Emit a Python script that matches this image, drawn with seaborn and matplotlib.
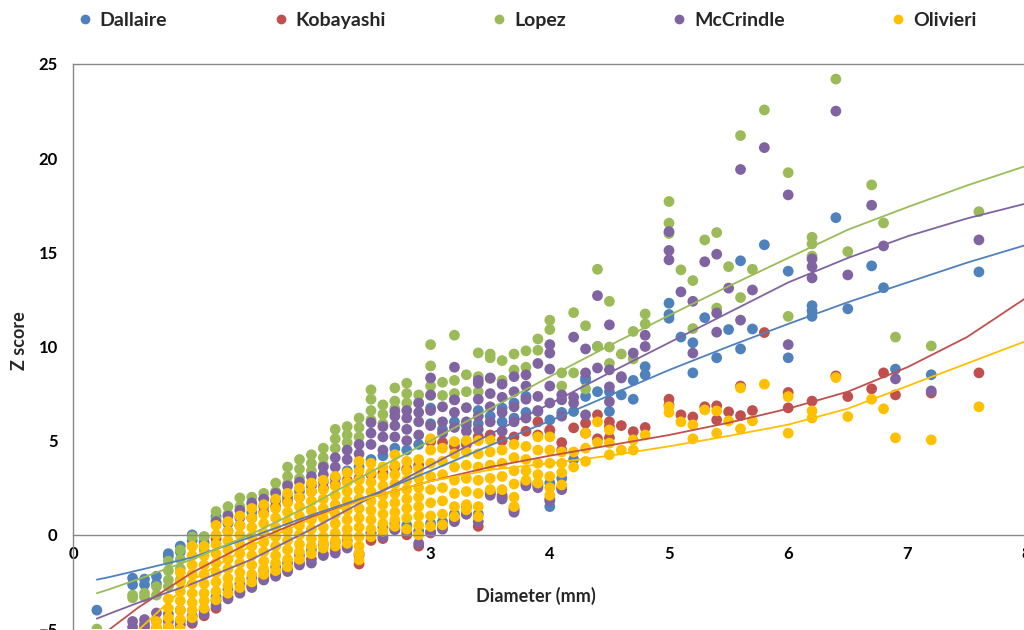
import numpy as np
import pandas as pd
import seaborn as sns
import matplotlib.pyplot as plt
from matplotlib.lines import Line2D

sns.set_theme(style='white')
plt.rcParams['font.family'] = ['Lato', 'DejaVu Sans']

# Studies and their colours
series = ['Dallaire', 'Kobayashi', 'Lopez', 'McCrindle', 'Olivieri']
colors = ['#4F81BD', '#C0504D', '#9BBB59', '#8064A2', '#FFC000']

# Diameters (mm) of the measured columns
diam = [0.2, 0.5, 0.6, 0.7, 0.8, 0.9, 1.0, 1.1, 1.2, 1.3, 1.4, 1.5, 1.6, 1.7, 1.8, 1.9,
        2.0, 2.1, 2.2, 2.3, 2.4, 2.5, 2.6, 2.7, 2.8, 2.9, 3.0, 3.1, 3.2, 3.3, 3.4, 3.5,
        3.6, 3.7, 3.8, 3.9, 4.0, 4.1, 4.2, 4.3, 4.4, 4.5, 4.6, 4.7, 4.8, 5.0, 5.1, 5.2,
        5.3, 5.4, 5.5, 5.6, 5.7, 5.8, 6.0, 6.2, 6.4, 6.5, 6.7, 6.8, 6.9, 7.2, 7.6]

# Z scores per diameter, one list per column
dallaire = [[-4.0], [-2.3, -2.65], [-2.35, -2.65], [-2.2, -2.6], [-1.0, -1.15], [-0.6, -0.9],
            [0.0, -0.3], [-0.1, -0.4], [0.97, -3.3], [0.6, -2.9], [0.9, -2.6], [1.2, -2.3],
            [1.5, -1.9], [1.8, -1.7], [2.0, -1.5], [2.3, -1.1], [2.6, -0.8], [2.8, -0.5],
            [3.0, -0.4], [3.4, -0.3], [3.6, -1.1], [4.0, 0.1], [4.2, 0.4], [4.6, 0.6],
            [4.5, 0.5], [4.8, 0.2], [6.73, 5.9, 0.6], [5.6, 0.7], [7.17, 6.0, 1.1], [5.8, 1.5],
            [6.6, 5.9, 1.1], [6.3, 2.3], [6.73, 6.0, 2.1], [7.0, 6.2, 1.4], [7.35, 6.5, 2.8],
            [6.55, 2.7], [6.1, 5.5, 2.75, 1.5], [6.5, 3.0], [6.55, 4.0], [8.2, 7.35, 8.33],
            [10.0, 7.6], [7.6, 6.55], [7.43], [8.2, 7.2], [8.93, 8.5], [12.3, 11.7, 11.5],
            [10.5], [10.2, 8.6], [11.53], [9.4], [10.9], [14.55, 9.87], [10.93], [15.4],
            [14.0, 9.4], [12.17, 11.9, 11.6], [16.84], [12.0], [14.28], [13.12], [8.8],
            [8.5], [13.96]]

kobayashi = [[], [], [-4.9], [-4.95], [-4.9], [-4.8], [-4.7], [-4.3], [-3.9, -0.2],
             [-3.3, 0.2], [-3.0, 0.5], [-2.7, 0.9], [-2.3, 1.2], [-2.1, 1.5], [-1.8, 1.8],
             [-1.5, 2.0], [-1.3, 2.3], [-1.0, 2.5], [-0.8, 2.7], [-0.6, 2.9], [-1.55, 3.0],
             [-0.3, 3.2], [-0.2, 3.3], [0.3, 3.6], [0.0, 3.5], [-0.6, 3.7], [0.1, 4.95],
             [0.4, 4.9], [0.8, 4.7], [1.1, 4.8], [0.45, 5.2], [2.2, 5.3], [2.0, 5.0],
             [1.3, 5.2], [2.7, 5.5], [2.6, 6.0, 5.3], [1.9, 5.57], [2.5, 4.9, 4.5], [5.68],
             [5.4, 5.93], [6.37, 5.1], [6.0, 5.75, 5.15], [5.8], [5.48], [5.7], [7.2, 6.9],
             [6.37], [6.26], [6.8], [6.85, 6.1], [6.53], [7.9, 6.33], [6.6], [10.74],
             [7.56, 6.74], [7.1], [8.44], [7.34], [7.75], [8.6], [7.43], [7.53], [8.6]]

lopez = [[-5.0], [-3.2, -3.35], [-3.1, -3.3], [-2.75, -3.2], [-1.4, -1.9, -2.4, -2.75],
         [-0.8, -1.3, -1.8, -2.4], [-0.1, -0.6], [-0.1, -0.8], [1.24, 0.8], [1.5, 1.1],
         [1.96, 1.5], [2.0, 1.6], [2.2, 1.9], [2.75, 2.3], [3.6, 3.1, 2.7], [4.0, 3.5, 3.0],
         [4.25, 3.8, 3.4], [4.6, 4.1, 3.7], [5.6, 5.1, 4.6], [5.75, 5.3, 4.9],
         [6.2, 5.7, 5.2], [7.7, 7.2, 6.6, 6.1], [6.9, 6.4, 5.9], [7.8, 7.1, 6.7],
         [8.05, 7.5, 7.0], [7.43, 7.0], [10.1, 8.97, 7.9, 7.4], [8.1, 7.4], [10.6, 8.2, 7.5],
         [8.5, 7.6], [9.66, 8.4, 7.6], [9.6, 9.4, 8.3], [9.25, 8.2], [9.6, 8.75],
         [9.77, 8.9], [10.4, 9.8], [11.4, 10.9], [8.6, 7.9], [11.8, 8.6], [11.1, 7.75],
         [14.1, 10.0], [12.4, 9.97, 9.1], [9.6], [10.8, 9.34], [11.73, 11.2],
         [17.7, 16.55, 16.0], [14.07], [13.5, 10.95], [15.66], [16.05, 12.04], [14.24],
         [21.2, 12.6], [14.1], [22.56], [19.23, 11.6], [15.8, 15.45, 14.8], [24.2],
         [15.04], [18.58], [16.56], [10.5], [10.03], [17.16]]

mccrindle = [[], [-4.6, -4.9], [-4.5, -4.75], [-4.15, -4.6], [-4.2, -4.6], [-4.0, -4.6],
             [-4.3, -4.6], [-4.0, -4.2], [0.7, -3.5, -3.75], [1.0, -3.4], [1.3, -3.1],
             [1.7, -2.8], [1.9, -2.4], [2.2, -2.2], [2.6, -1.95], [2.8, -1.6], [3.1, -1.5],
             [3.6, 3.2, -1.1], [4.1, 3.6, -0.97], [4.5, 4.0, -0.7], [4.8, 4.3, -1.0],
             [5.96, 5.4, 4.8, 0.1], [5.75, 5.2, 4.5, -0.1], [6.55, 6.3, 5.8, 5.2, 0.27],
             [6.6, 6.2, 5.6, 5.0, 0.17], [7.0, 6.5, 6.0, 5.3, -0.45],
             [8.33, 7.43, 6.6, 5.8, 0.17], [6.8, 6.0, 5.4, 0.3], [8.9, 7.17, 6.5, 5.7, 0.7],
             [6.75, 6.0, 5.5, 1.1], [8.2, 8.05, 7.2, 6.3, 5.6, 0.7], [8.33, 7.5, 6.8, 6.0, 2.1],
             [8.0, 7.3, 6.5, 5.5, 1.9], [8.4, 7.6, 6.8, 6.0, 1.2], [8.5, 7.9, 7.2, 6.2, 2.6],
             [9.1, 7.35, 6.6, 2.5], [10.1, 9.65, 8.8, 7.9, 7.0, 1.8], [7.43, 7.17, 6.3, 2.4],
             [10.5, 7.3, 7.0], [9.87, 8.6, 6.37], [12.7, 8.86], [11.15, 8.76, 7.86, 7.07],
             [8.4, 8.33], [9.65], [10.6, 10.0], [16.1, 15.1, 14.6], [12.9], [12.4, 9.65],
             [14.5], [14.9, 11.78, 10.76], [13.1], [19.4, 11.4], [13.0], [20.56],
             [18.05, 10.1], [14.65, 14.24, 13.64], [22.5], [13.8], [17.5], [15.34], [8.28],
             [7.64], [15.66]]

olivieri = [[], [], [], [-4.6, -4.9], [-3.4, -3.9, -4.4, -4.9],
            [-2.0, -2.5, -3.0, -3.5, -4.0, -4.5, -5.0],
            [-0.6, -1.1, -1.6, -2.1, -2.6, -3.1, -3.6, -4.0, -4.4],
            [-0.6, -1.1, -1.6, -2.1, -2.6, -3.1, -3.5, -3.9],
            [0.5, 0.0, -0.5, -1.0, -1.5, -2.0, -2.5, -3.0, -3.45],
            [0.7, 0.2, -0.3, -0.8, -1.3, -1.8, -2.3, -2.7, -3.1],
            [1.0, 0.5, 0.0, -0.5, -1.0, -1.5, -2.0, -2.4, -2.8],
            [1.4, 0.9, 0.4, -0.1, -0.6, -1.1, -1.6, -2.1, -2.5],
            [1.6, 1.1, 0.6, 0.1, -0.4, -0.9, -1.4, -1.8, -2.1],
            [1.9, 1.4, 0.9, 0.4, -0.1, -0.6, -1.1, -1.5, -1.9],
            [2.2, 1.7, 1.2, 0.7, 0.2, -0.3, -0.8, -1.3, -1.7],
            [2.5, 2.0, 1.5, 1.0, 0.5, 0.0, -0.5, -0.9, -1.3],
            [2.75, 2.3, 1.8, 1.3, 0.8, 0.3, -0.2, -0.6, -1.0],
            [2.9, 2.4, 1.9, 1.4, 0.9, 0.4, -0.1, -0.4, -0.7],
            [3.1, 2.6, 2.1, 1.6, 1.1, 0.6, 0.1, -0.3, -0.6],
            [3.3, 2.8, 2.3, 1.8, 1.3, 0.8, 0.3, -0.1, -0.45],
            [3.9, 3.4, 2.9, 2.4, 1.9, 1.4, 0.9, 0.4, -0.1, -0.6, -1.0, -1.33],
            [3.8, 3.3, 2.8, 2.3, 1.8, 1.3, 0.8, 0.3, -0.1],
            [3.6, 3.1, 2.6, 2.1, 1.6, 1.1, 0.6, 0.2],
            [4.25, 3.7, 3.2, 2.7, 2.2, 1.7, 1.2, 0.8, 0.45],
            [3.9, 3.4, 2.9, 2.4, 1.9, 1.4, 0.9, 0.3],
            [4.0, 3.5, 3.0, 2.5, 2.0, 1.5, 1.0, 0.5, 0.0],
            [5.1, 4.5, 3.8, 3.1, 2.4, 1.7, 1.0, 0.45],
            [4.6, 3.9, 3.2, 2.5, 1.8, 1.1, 0.53],
            [4.95, 4.3, 3.6, 2.9, 2.2, 1.5, 0.97],
            [5.0, 4.4, 3.7, 3.0, 2.3, 1.6, 1.33],
            [5.0, 4.3, 3.6, 2.9, 2.2, 1.5, 0.97],
            [5.04, 4.4, 3.7, 3.0, 2.4], [4.5, 3.8, 3.1, 2.4],
            [4.8, 4.1, 3.4, 2.7, 2.0, 1.5], [4.7, 4.0, 3.4, 2.9],
            [5.2, 4.5, 3.8, 3.2, 2.75], [5.2, 4.5, 3.8, 3.1, 2.5, 2.1],
            [4.4, 3.8, 3.3, 2.65], [4.4, 3.6], [5.4, 4.6, 3.9], [6.0, 4.9],
            [5.57, 4.87, 4.25], [4.5], [5.04, 4.5], [5.3], [6.8, 6.5], [6.0], [5.84, 5.1],
            [6.63], [6.58, 5.4], [6.05], [7.8, 5.63], [6.05], [8.0], [7.34, 5.4], [6.58, 6.2],
            [8.35], [6.28], [7.2], [6.69], [5.15], [5.04], [6.8]]

# Polynomial trendlines
trend_x = [0.2, 0.3, 0.55, 1.0, 1.5, 2.0, 2.5, 3.0, 3.5, 4.0, 4.5, 5.0, 5.5, 6.0, 6.5, 7.0, 7.5, 8.0]
trend_dallaire = [-2.38, -2.25, -1.88, -1.2, -0.1, 1.05, 2.1, 3.4, 4.75, 6.05, 7.4, 8.75, 10.0, 11.2, 12.35, 13.4, 14.45, 15.4]
trend_kobayashi = [np.nan, -5.05, -3.85, -2.0, -0.35, 0.95, 2.0, 2.85, 3.6, 4.2, 4.75, 5.3, 5.95, 6.7, 7.6, 8.9, 10.5, 12.6]
trend_lopez = [-3.1, -2.9, -2.35, -1.3, 0.05, 1.6, 3.35, 5.0, 6.7, 8.4, 10.05, 11.65, 13.2, 14.7, 16.2, 17.4, 18.55, 19.6]
trend_mccrindle = [-4.45, -4.2, -3.6, -2.6, -1.3, 0.3, 2.0, 3.7, 5.35, 6.95, 8.6, 10.2, 11.8, 13.4, 14.7, 15.85, 16.8, 17.6]
trend_olivieri = [np.nan, np.nan, -5.05, -2.4, -0.55, 0.85, 2.0, 2.85, 3.45, 3.8, 4.2, 4.7, 5.25, 5.85, 6.7, 7.9, 9.1, 10.3]

rows = []
for name, cols in zip(series, [dallaire, kobayashi, lopez, mccrindle, olivieri]):
    for d, zs in zip(diam, cols):
        for z in zs:
            rows.append((name, d, z))
df = pd.DataFrame(rows, columns=['Study', 'Diameter', 'Z'])

trend = pd.DataFrame({'x': trend_x, 'Dallaire': trend_dallaire, 'Kobayashi': trend_kobayashi,
                      'Lopez': trend_lopez, 'McCrindle': trend_mccrindle, 'Olivieri': trend_olivieri})

fig = plt.figure(figsize=(10.24, 6.3), dpi=100)
ax = fig.add_axes([73 / 1024, 1 / 630, 953.6 / 1024, 565 / 630])

sns.scatterplot(data=df, x='Diameter', y='Z', hue='Study', hue_order=series, palette=colors,
                s=60, linewidth=0, legend=False, ax=ax)

for name, c in zip(series, colors):
    t = trend[['x', name]].dropna()
    sns.lineplot(data=t, x='x', y=name, color=c, lw=1.3, legend=False, ax=ax)

ax.set_xlim(0, 8)
ax.set_ylim(-5, 25)
ax.set_xticks(range(0, 9))
ax.set_yticks(range(-5, 26, 5))
ax.spines['bottom'].set_position(('data', 0))
ax.spines['right'].set_visible(False)
for sp in ['left', 'top', 'bottom']:
    ax.spines[sp].set_color('#888888')
    ax.spines[sp].set_linewidth(1)
ax.tick_params(axis='both', direction='out', length=5, width=1, color='#888888',
               labelsize=12, labelcolor='black')
ax.tick_params(axis='y', pad=6)
ax.tick_params(axis='x', pad=3)
for lbl in ax.get_xticklabels() + ax.get_yticklabels():
    lbl.set_fontweight('bold')

ax.set_xlabel('Diameter (mm)', fontsize=13, fontweight='bold')
ax.xaxis.label.set_va('center')
ax.xaxis.set_label_coords(0.485, 0.058)
ax.set_ylabel('Z score', fontsize=13, fontweight='bold')
ax.yaxis.label.set_va('center')
ax.yaxis.set_label_coords(-0.056, 0.511)

handles = [Line2D([], [], marker='o', ls='', color=c, markersize=6) for c in colors]
fig.legend(handles, series, loc='center left', bbox_to_anchor=(0.061, 0.968), ncol=5,
           frameon=False, prop={'weight': 'bold', 'size': 14}, handlelength=0.9,
           handletextpad=0.3, columnspacing=5.4, borderpad=0.2)

fig.savefig('out.png', dpi=100)
